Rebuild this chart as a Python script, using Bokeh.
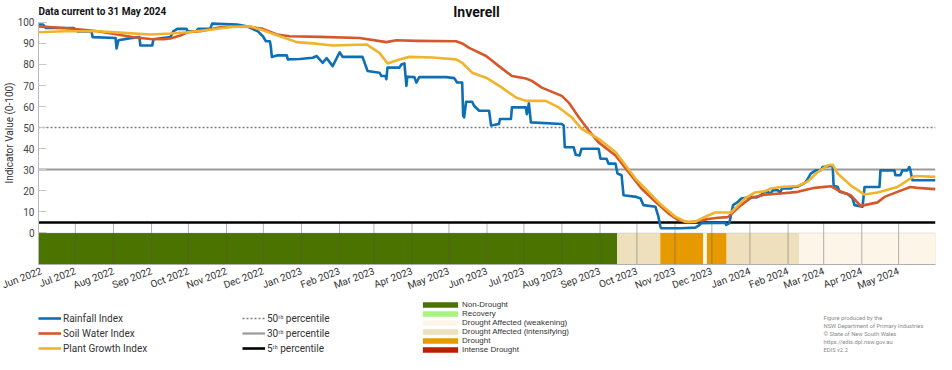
import pandas as pd
from bokeh.plotting import figure
from bokeh.layouts import column
from bokeh.models import (Range1d, FixedTicker, DatetimeTickFormatter, Label, Legend,
                          LegendItem, BoxAnnotation)
from bokeh.embed import file_html
from bokeh.resources import INLINE

FONT = "Roboto"
LEG_FONT = "Liberation Sans"
BASE_DATE = "2022-06-01"   # day offsets below count from this date
NAN = float("nan")

# ---------------- data ----------------
rain_day = [0, 3.5, 6, 28.6, 31.9, 43.2, 44, 62.7, 63.5, 65.1, 74.8, 82.1, 82.9, 92.6, 93.5, 107.3,
            109.7, 113, 120.3, 121.8, 128.3, 129.9, 139.7, 141.3, 161.6, 170.5, 173.7, 178.6, 182.6,
            185.1, 188.3, 189.1, 189.9, 194, 202.1, 202.9, 212.6, 223.2, 226.4, 231.3, 234.5, 239.4,
            245.1, 247.5, 263.7, 267.8, 277.5, 279.1, 282.4, 283.1, 284, 293.7, 295.3, 297.8, 299.4,
            300.2, 305.9, 307.5, 309.9, 331.8, 338.3, 340.7, 344.8, 345.6, 346.4, 348, 352.9, 354.5,
            358.6, 366.7, 368.3, 374.7, 375.6, 384.5, 385.3, 396.6, 397.4, 399.1, 400.7, 425.8, 427.4,
            428.3, 435.5, 437.2, 440.4, 442, 455.8, 457.4, 462.3, 463.9, 469.6, 471.2, 474.5, 476.1,
            486.6, 489.9, 492.3, 502.1, 502.9, 504.5, 506.1, 506.9, 523.1, 534.5, 536.9, 539.4, 558.9,
            559.7, 562.1, 565.3, 569.3, 571.8, 579.9, 584, 588, 590.5, 593.7, 595.4, 597.8, 601.8,
            603.4, 605.1, 612.3, 614, 618, 622.9, 624.4, 626.1, 628.5, 632.5, 636.6, 638.2, 644.7,
            646.3, 647.1, 650.4, 652, 658.5, 662.5, 664.1, 670.6, 672.3, 684.4, 685.2, 696.6, 697.4,
            701.4, 703.1, 707.1, 708.7, 709.5, 711.2, 730]
rain_val = [99, 99, 97.3, 97.3, 95.7, 95.7, 93, 92.6, 87.6, 91.5, 92.5, 93, 89, 89, 92, 93,
            95.7, 96.9, 96.9, 95.7, 95.7, 96.9, 96.9, 99.4, 99, 98, 97, 95.7, 93.4,
            91, 91, 88.4, 83.6, 84.3, 84.3, 82.4, 82.6, 83.2, 84, 80.8, 83, 79.2,
            85.8, 83.6, 83.6, 76.9, 76.1, 74.5, 74.5, 73, 78.5, 78.5, 80, 80.5, 69.8,
            74.2, 74, 71.4, 74, 74, 73.5, 71.4, 71.4, 55.7, 54.9, 62.3, 62.3, 60.4,
            58, 58, 51, 51.7, 54.1, 54.1, 59.6, 59.6, 56.4, 61.6, 52.5, 51.7, 51,
            40.7, 40.7, 37.1, 36.8, 40, 40, 35.2, 35.2, 32.9, 32.9, 28.2, 27.4, 17.9,
            17.1, 16.4, 13.2, 12.4, 10.8, 7.7, 3, 2.2, 2.2, 2.5, 3.3, 4.6, 4.8,
            3.8, 4.5, 13.2, 14.8, 16.3, 17.1, 16.8, 17.9, 19.5, 19.5, 18.5, 20.3, 20.3,
            19, 21.1, 21.1, 21.8, 22, 23.5, 24.2, 25.8, 28.2, 29.7, 29.7, 31.3, 31.8,
            31.8, 22.6, 21.8, 19.5, 18.5, 16.4, 13.2, 12.4, 21.8, 21.8, 29.7, 29.7, 27.4,
            27.4, 29.7, 29.7, 31.3, 30, 25, 25]

soil_day = [0, 20.5, 36.7, 48.1, 64.3, 77.3, 91, 101.6, 107.3, 115.4, 121, 131.6, 147.8, 161.6,
            172.1, 182.6, 194, 204.5, 228.8, 261.3, 283.1, 291.3, 307.5, 339.9, 344.8, 350.5,
            364.3, 374.7, 385.3, 396.6, 401.5, 409.6, 425.8, 431.5, 439.7, 447.8, 455.8, 469.6,
            480.1, 490.7, 502.1, 512.6, 520.7, 528.8, 536.9, 545, 553.1, 561, 571.8, 579.9,
            591.2, 604.2, 617.9, 631.7, 644.7, 650.4, 660.9, 669, 672.3, 682.8, 688.5, 699,
            709.5, 715.2, 730]
soil_val = [98.1, 97.3, 96.5, 95.8, 94.2, 92.9, 92.1, 92, 92.3, 93.7, 95.3, 95.8, 97.6, 98,
            97.8, 96.9, 94.2, 93.4, 93.1, 92.6, 90.6, 91.5, 91.2, 91, 90, 87.9,
            84, 79.2, 74.5, 73.3, 72.2, 69, 65.1, 61.9, 54.9, 48.6, 43, 36.8,
            28.9, 21.1, 14.8, 9.3, 6.1, 5, 5.6, 6.6, 7.2, 7.5, 13.2, 16.7,
            18.2, 18.7, 19.5, 21.4, 22.2, 20.3, 17.9, 12.9, 13.2, 14.5, 17.1, 19.5,
            21.8, 21.4, 20.8]

plant_day = [0, 20.5, 48.1, 69.1, 91, 107.3, 121, 139.7, 155.9, 172.1, 182.6, 196.4, 210.2,
             223.2, 239.4, 266.9, 277.5, 284, 293.7, 301.8, 320.4, 339.9, 344.8, 352.9, 364.3,
             377.2, 388.5, 396.6, 412.8, 423.4, 433.9, 442, 455.8, 469.6, 477.7, 485.8, 496.4,
             506.9, 518.3, 526.4, 534.5, 542.6, 550.7, 563.6, 566.9, 575, 583.1, 591.2, 596.1,
             604.2, 617.9, 626.1, 634.2, 642.3, 646.3, 650.4, 660.9, 672.3, 682.8, 699, 709.5,
             712.8, 730]
plant_val = [95.3, 95.8, 95.8, 95, 94.2, 94.7, 95.3, 96.5, 97.8, 98.1, 96.2, 93.4, 90.6,
             90, 89, 89.5, 85.5, 80.5, 82.4, 83.6, 83.3, 82.4, 80.8, 76.1, 73.7,
             69, 64.3, 62.7, 62.7, 59.6, 54.9, 49.4, 44.7, 38.4, 32.1, 25.8, 19.5,
             13.2, 7.7, 5.3, 5.3, 7.7, 9.7, 9.7, 11.6, 16.4, 19.2, 19.8, 21.1,
             21.8, 22.3, 24.5, 28.9, 32.1, 32.4, 28.2, 22.6, 18.2, 19.2, 21.8, 25.8,
             27, 26.6]

categories = ["Non-Drought", "Recovery", "Drought Affected (weakening)",
              "Drought Affected (intensifying)", "Drought", "Intense Drought"]
category_colors = ["#4b7300", "#a6f47c", "#fdf5e8", "#eee0bd", "#e69a00", "#b82000"]

band_start = ["2022-06-01", "2023-09-15", "2023-10-20", "2023-11-24", "2023-11-27",
              "2023-12-13", "2024-02-10"]
band_end = ["2023-09-15", "2023-10-20", "2023-11-24", "2023-11-27", "2023-12-13",
            "2024-02-10", "2024-05-31"]
band_cat = ["Non-Drought", "Drought Affected (intensifying)", "Drought",
            "Drought Affected (weakening)", "Drought", "Drought Affected (intensifying)",
            "Drought Affected (weakening)"]

month_ticks = ["2022-06-01", "2022-07-01", "2022-08-01", "2022-09-01", "2022-10-01",
               "2022-11-01", "2022-12-01", "2023-01-01", "2023-02-01", "2023-03-01",
               "2023-04-01", "2023-05-01", "2023-06-01", "2023-07-01", "2023-08-01",
               "2023-09-01", "2023-10-01", "2023-11-01", "2023-12-01", "2024-01-01",
               "2024-02-01", "2024-03-01", "2024-04-01", "2024-05-01"]
y_ticks = [0, 10, 20, 30, 40, 50, 60, 70, 80, 90, 100]

series_names = ["Rainfall Index", "Soil Water Index", "Plant Growth Index"]
series_colors = ["#0f6fb4", "#d6582a", "#efb42b"]
percentile_values = [50, 30, 5]
percentile_labels = ["50\u1d57\u02b0 percentile", "30\u1d57\u02b0 percentile", "5\u1d57\u02b0 percentile"]

# ---------------- helpers ----------------
base = pd.Timestamp(BASE_DATE)
def to_dates(days):
    return base + pd.to_timedelta(days, unit="D")

cat_color = dict(zip(categories, category_colors))
months = pd.to_datetime(month_ticks)

W = 936
H1 = 299
H2 = 55

# ---------------- main chart ----------------
p = figure(width=W, height=H1, output_backend="svg", toolbar_location=None,
           x_axis_type="datetime",
           x_range=Range1d(pd.Timestamp("2022-06-01"), pd.Timestamp("2024-05-31")),
           y_range=Range1d(-15, 109.9),
           min_border_left=38, min_border_right=1, min_border_top=1, min_border_bottom=33)
p.outline_line_color = None
p.xgrid.visible = False
p.ygrid.visible = False

# drought category band
p.quad(left=pd.to_datetime(band_start), right=pd.to_datetime(band_end), bottom=-15, top=0,
       fill_color=[cat_color[c] for c in band_cat], line_color=None)
p.add_layout(BoxAnnotation(bottom=-15, top=0, fill_alpha=0, line_color="#b0b0b0", line_width=1))

# month lines in band
p.segment(x0=months, y0=-15, x1=months, y1=5, line_color="#555555", line_alpha=0.45, line_width=1)

# percentile lines
pct_styles = [dict(line_color="#7f7f7f", line_width=1.6, line_dash="2 2"),
              dict(line_color="#9a9a9a", line_width=2.2),
              dict(line_color="#000000", line_width=2.6)]
for v, st in zip(percentile_values, pct_styles):
    p.hspan(y=v, **st)

# index series
days_list = [rain_day, soil_day, plant_day]
vals_list = [rain_val, soil_val, plant_val]
for d, v, c in zip(days_list, vals_list, series_colors):
    p.line(to_dates(d), v, line_color=c, line_width=2.6, line_join="round")

# axes
p.yaxis.ticker = FixedTicker(ticks=y_ticks)
p.yaxis.bounds = (-15, 100)
p.yaxis.major_tick_in = 8
p.yaxis.major_tick_out = 0
p.yaxis.minor_tick_line_color = None
p.yaxis.major_tick_line_color = "#c8c8c8"
p.yaxis.axis_line_color = "#b8b8b8"
p.yaxis.major_label_text_font = FONT
p.yaxis.major_label_text_font_size = "10px"
p.yaxis.major_label_text_color = "#444444"
p.yaxis.major_label_standoff = 4
p.yaxis.axis_label = "Indicator Value (0-100)"
p.yaxis.axis_label_text_font = FONT
p.yaxis.axis_label_text_font_size = "10px"
p.yaxis.axis_label_text_font_style = "normal"
p.yaxis.axis_label_text_color = "#333333"
p.yaxis.axis_label_standoff = 0

fmt = "%b %Y"
p.xaxis.ticker = FixedTicker(ticks=[m.value // 10**6 for m in months])
p.xaxis.formatter = DatetimeTickFormatter(milliseconds=fmt, seconds=fmt, minsec=fmt, minutes=fmt,
                                          hourmin=fmt, hours=fmt, days=fmt, months=fmt, years=fmt)
p.xaxis.major_label_orientation = 0.36
p.xaxis.major_tick_in = 0
p.xaxis.major_tick_out = 0
p.xaxis.minor_tick_line_color = None
p.xaxis.axis_line_color = "#b0b0b0"
p.xaxis.major_label_text_font = FONT
p.xaxis.major_label_text_font_size = "10px"
p.xaxis.major_label_text_color = "#333333"
p.xaxis.major_label_standoff = 6

def add_label(fig, text, x, y, size, bold=False, color="#222222", align="left"):
    fig.add_layout(Label(x=x, y=y, x_units="screen", y_units="screen", text=text,
                         text_font=FONT, text_font_size=size,
                         text_font_style="bold" if bold else "normal",
                         text_color=color, text_align=align, text_baseline="middle"))

add_label(p, "Inverell", 438, 253, "14px", bold=True, color="#111111", align="center")
add_label(p, "Data current to 31 May 2024", 0, 253, "10px", bold=True, color="#111111")

# ---------------- legend strip (its frame is aligned with the chart frame) ----------------
q = figure(width=W, height=H2, output_backend="svg", toolbar_location=None,
           x_range=Range1d(0, 1), y_range=Range1d(0, 1),
           x_axis_location=None, y_axis_location=None,
           min_border_left=0, min_border_right=0, min_border_top=0, min_border_bottom=0)
q.outline_line_color = None
q.xgrid.visible = False
q.ygrid.visible = False

def make_legend(items, loc, gw, gh, lh, spacing, standoff, font, fs):
    lg = Legend(items=items, location=loc, orientation="vertical", padding=0, margin=0,
                spacing=spacing, glyph_width=gw, glyph_height=gh, label_height=lh,
                label_standoff=standoff, label_text_font=font, label_text_font_size=fs,
                label_text_color="#333333", border_line_color=None, background_fill_alpha=0)
    q.add_layout(lg)

# placeholder renderers (one NaN row each) that only supply the legend swatches
series_dummy = [q.line(x=[NAN], y=[NAN], line_color=c, line_width=2.6) for c in series_colors]
make_legend([LegendItem(label=n, renderers=[r]) for n, r in zip(series_names, series_dummy)],
            (0, 0), 23, 12, 12, 3, 2, FONT, "10px")

pct_dummy = [q.line(x=[NAN], y=[NAN], **st) for st in pct_styles]
make_legend([LegendItem(label=n, renderers=[r]) for n, r in zip(percentile_labels, pct_dummy)],
            (204, 0), 23, 12, 12, 3, 2, FONT, "10px")

cat_dummy = [q.quad(left=[NAN], right=[NAN], bottom=[NAN], top=[NAN], fill_color=c,
                    line_color=None) for c in category_colors]
make_legend([LegendItem(label=n, renderers=[r]) for n, r in zip(categories, cat_dummy)],
            (380, 0), 44, 7, 8, 0, 0, LEG_FONT, "8px")

credits = ["Figure produced by the", "NSW Department of Primary Industries",
           "\u00a9 State of New South Wales", "https://edis.dpi.nsw.gov.au", "EDIS v2.2"]
credit_y = [37, 29, 21, 13, 5]
for t, yy in zip(credits, credit_y):
    add_label(q, t, 785, yy, "5.8px", color="#8a8a8a")

layout = column(p, q, spacing=0)
open("out.html", "w").write(file_html(layout, INLINE))
